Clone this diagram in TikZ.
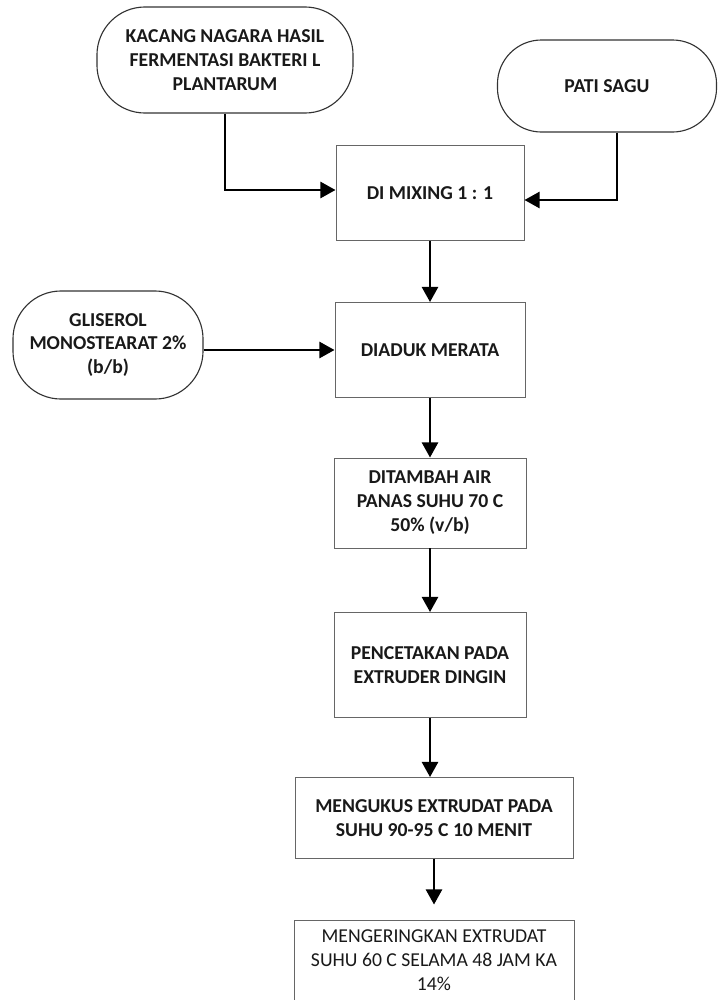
\documentclass[tikz,border=0pt]{standalone}
\usepackage{fontspec}
\setmainfont{Carlito}
\usetikzlibrary{arrows.meta}

\begin{document}
\begin{tikzpicture}
	[
	x=0.025cm, y=-0.025cm,
	every node/.style={font=\fontsize{14}{17}\selectfont\bfseries, align=center, text=black!90},
	src/.style={draw=black!80, line width=0.8pt, rounded corners=1.2cm, inner sep=2pt},
	proc/.style={draw=black!60, line width=0.6pt, inner sep=2pt},
	flow/.style={-{Triangle[length=3.8mm,width=4mm]}, line width=2pt}
	]
	\useasboundingbox (0,0) rectangle (723,1000);
	
	\node[src, minimum width=6.4cm, minimum height=2.65cm](kacang) at (225,60){KACANG NAGARA HASIL\\FERMENTASI BAKTERI L\\PLANTARUM};
	\node[src, rounded corners=1.1cm, minimum width=5.475cm, minimum height=2.3cm](pati) at (607,86){PATI SAGU};
	\node[src, minimum width=4.75cm, minimum height=2.7cm](gliserol) at (108,345){GLISEROL\\MONOSTEARAT 2\%\\(b/b)};
	
	\node[proc, minimum width=4.7cm, minimum height=2.375cm](mixing) at (430,193){DI MIXING 1 : 1};
	\node[proc, minimum width=4.75cm, minimum height=2.375cm](diaduk) at (430,350){DIADUK MERATA};
	\node[proc, minimum width=4.8cm, minimum height=2.25cm](ditambah) at (430,503){DITAMBAH AIR\\PANAS SUHU 70 C\\50\% (v/b)};
	\node[proc, minimum width=4.8cm, minimum height=2.625cm](cetak) at (430,665){PENCETAKAN PADA\\EXTRUDER DINGIN};
	\node[proc, minimum width=6.95cm, minimum height=2.025cm](kukus) at (434,818){MENGUKUS EXTRUDAT PADA\\SUHU 90-95 C 10 MENIT};
	\node[proc, minimum width=7cm, minimum height=2cm, font=\fontsize{14}{17}\selectfont](kering) at (434,960){MENGERINGKAN EXTRUDAT\\SUHU 60 C SELAMA 48 JAM KA\\14\%};
	
	\draw[flow](kacang.south) |- ([yshift=0.075cm]mixing.west);
	\draw[flow]([xshift=0.25cm]pati.south) |- ([yshift=-0.175cm]mixing.east);
	\draw[flow](gliserol.east |- diaduk.west) -- (diaduk.west);
	
	\draw[flow](mixing.south) -- (diaduk.north);
	\draw[flow](diaduk.south) -- (ditambah.north);
	\draw[flow](ditambah.south) -- (cetak.north);
	\draw[flow](cetak.south) -- (cetak.south |- kukus.north);
	\draw[flow, shorten >=0.375cm](kukus.south) -- (kering.north);
\end{tikzpicture}
\end{document}
